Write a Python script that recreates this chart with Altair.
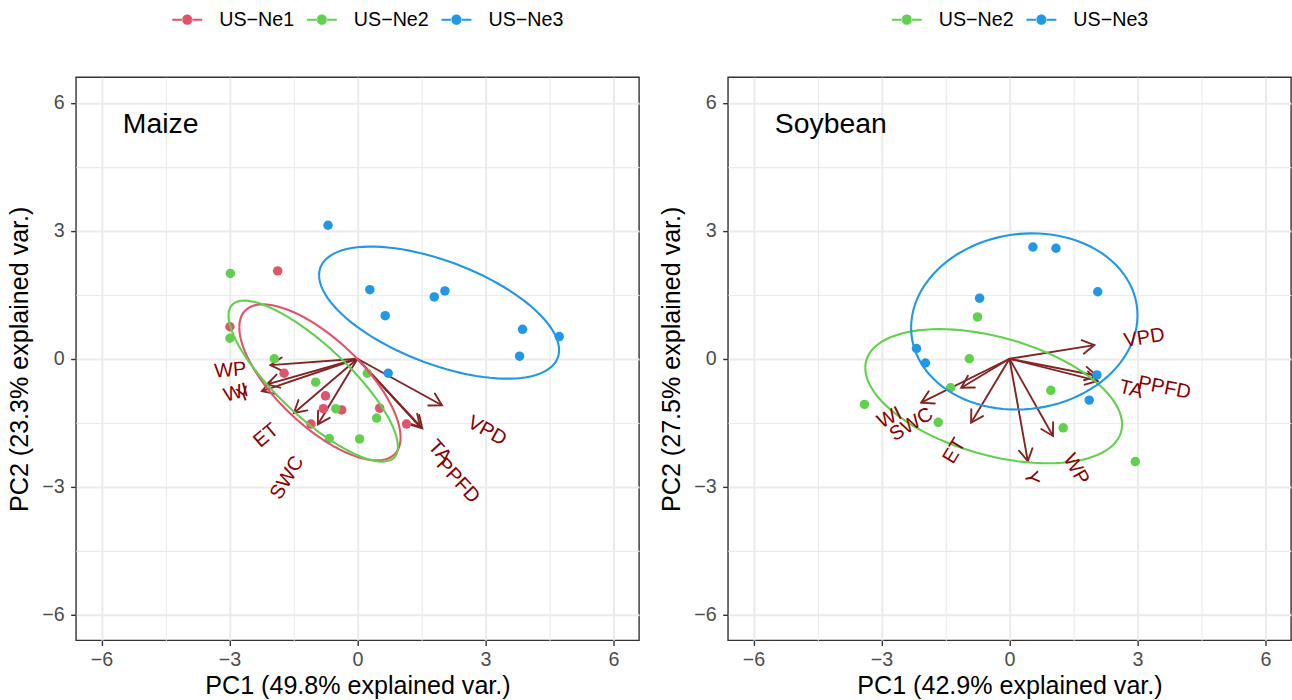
import altair as alt
import numpy as np
import pandas as pd

FONT = "Liberation Sans"

# ---------------- data ----------------
maize_sites = ["US\u2212Ne1", "US\u2212Ne2", "US\u2212Ne3"]
maize_colors = ["#DF536B", "#61D04F", "#2297E6"]
soy_sites = ["US\u2212Ne2", "US\u2212Ne3"]
soy_colors = ["#61D04F", "#2297E6"]

# Maize PC scores
maize_ne1_pc1 = [-1.87, -2.99, -1.72, -0.75, -0.80, -0.37, -1.09, 0.52, 1.15]
maize_ne1_pc2 = [2.06, 0.75, -0.34, -0.87, -1.17, -1.20, -1.53, -1.16, -1.53]
maize_ne2_pc1 = [-2.98, -2.99, -1.95, -0.98, 0.23, -0.51, 0.45, -0.66, 0.05]
maize_ne2_pc2 = [2.00, 0.48, 0.00, -0.55, -0.34, -1.17, -1.39, -1.87, -1.88]
maize_ne3_pc1 = [-0.69, 0.29, 0.65, 1.80, 2.05, 3.87, 4.73, 3.80, 0.72]
maize_ne3_pc2 = [3.13, 1.62, 1.01, 1.45, 1.59, 0.69, 0.52, 0.06, -0.34]

# Soybean PC scores
soy_ne2_pc1 = [-0.75, -0.94, -1.38, -3.40, -1.67, 0.97, 1.26, 2.95]
soy_ne2_pc2 = [0.98, 0.00, -0.68, -1.07, -1.49, -0.74, -1.62, -2.41]
soy_ne3_pc1 = [0.55, 1.09, 2.07, -0.70, -2.18, -1.97, 2.05, 1.87]
soy_ne3_pc2 = [2.62, 2.59, 1.57, 1.42, 0.24, -0.10, -0.38, -0.97]

# Variable loadings (arrow tips) and label centres
variables = ["WP", "WI", "Y", "ET", "SWC", "VPD", "TA", "PPFD"]
maize_load_pc1 = [-2.04, -2.12, -2.24, -1.49, -0.93, 1.98, 1.47, 1.52]
maize_load_pc2 = [-0.15, -0.60, -0.76, -1.27, -1.54, -1.09, -1.60, -1.63]
maize_lab_pc1 = [-2.98, -2.85, -2.67, -2.14, -1.65, 3.04, 1.93, 2.36]
maize_lab_pc2 = [-0.27, -0.80, -0.84, -1.80, -2.79, -1.69, -2.18, -2.86]

soy_load_pc1 = [1.02, -2.07, 0.43, -0.90, -1.13, 1.99, 2.07, 2.05]
soy_load_pc2 = [-1.81, -1.03, -2.40, -1.50, -0.68, 0.32, -0.52, -0.40]
soy_lab_pc1 = [1.56, -2.81, 0.51, -1.29, -2.30, 3.16, 2.85, 3.63]
soy_lab_pc2 = [-2.59, -1.38, -2.79, -2.16, -1.54, 0.49, -0.72, -0.68]

axis_values = [-6, -4.5, -3, -1.5, 0, 1.5, 3, 4.5, 6]
domain = [-6.6, 6.6]


def scores_frame(groups):
    rows = []
    for site, xs, ys in groups:
        for a, b in zip(xs, ys):
            rows.append({"site": site, "pc1": a, "pc2": b})
    return pd.DataFrame(rows)


def ellipse_frame(groups, prob=0.68, n=101):
    # same construction as ggbiplot: covariance ellipse at the given probability
    rows = []
    ed = np.sqrt(-2 * np.log(1 - prob))
    theta = np.linspace(-np.pi, np.pi, n)
    circle = np.column_stack([np.cos(theta), np.sin(theta)])
    for site, xs, ys in groups:
        pts = np.column_stack([xs, ys])
        sigma = np.cov(pts, rowvar=False)
        mu = pts.mean(axis=0)
        upper = np.linalg.cholesky(sigma).T
        ell = circle @ upper * ed + mu
        for i, (a, b) in enumerate(ell):
            rows.append({"site": site, "i": i, "pc1": a, "pc2": b})
    return pd.DataFrame(rows)


def loadings_frame(p1, p2, l1, l2):
    return pd.DataFrame({"var": variables, "x0": 0.0, "y0": 0.0,
                         "pc1": p1, "pc2": p2, "lx": l1, "ly": l2})


cond = "datum.value % 3 !== 0"


def make_axis(title, label_pad, title_pad):
    return alt.Axis(
        title=title, values=axis_values, format="d",
        labelExpr="datum.value % 3 === 0 ? datum.label : ''",
        grid=True, gridColor="#EBEBEB",
        gridWidth={"condition": {"test": cond, "value": 1.1}, "value": 2},
        tickColor="#333333", tickWidth=1.4, tickSize=5.3,
        tickOpacity={"condition": {"test": cond, "value": 0}, "value": 1},
        domain=False, labelOverlap=False,
        labelFont=FONT, labelFontSize=19.7, labelColor="#4D4D4D", labelPadding=label_pad,
        titleFont=FONT, titleFontSize=25.1, titleColor="black",
        titleFontWeight="normal", titlePadding=title_pad,
    )


LEG_PATH = ("M-1,-0.07L-0.3,-0.07L-0.3,0.07L-1,0.07Z "
            "M0.3,-0.07L1,-0.07L1,0.07L0.3,0.07Z "
            "M-0.34,0A0.34,0.34 0 1,0 0.34,0A0.34,0.34 0 1,0 -0.34,0Z")
ARROW_PATH = "M-1,-0.577L0,0L-1,0.577"
ARROW_COL = "#832424"


def panel(groups, sites, colors, loads, xtitle, ytitle, name, legend_x):
    scores = scores_frame(groups)
    ell = ellipse_frame(groups)
    xs = alt.Scale(domain=domain, nice=False, zero=False)
    ys = alt.Scale(domain=domain, nice=False, zero=False)
    cscale = alt.Scale(domain=sites, range=colors)
    X = lambda f: alt.X(f, type="quantitative", scale=xs, axis=make_axis(xtitle, 4, 4))
    Y = lambda f: alt.Y(f, type="quantitative", scale=ys, axis=make_axis(ytitle, 6.5, 9))

    shafts = alt.Chart(loads).mark_rule(color=ARROW_COL, strokeWidth=1.9).encode(
        x=X("x0"), y=Y("y0"), x2="pc1", y2="pc2")
    heads = alt.Chart(loads).transform_calculate(
        ha="(360 - atan2(datum.pc2, datum.pc1) * 180 / PI) % 360"
    ).mark_point(shape=ARROW_PATH, filled=False, stroke=ARROW_COL, strokeWidth=1.9,
                 size=560, opacity=1, strokeCap="round", strokeJoin="miter").encode(
        x=X("pc1"), y=Y("pc2"), angle=alt.Angle("ha:Q", scale=None))
    points = alt.Chart(scores).mark_circle(size=90, opacity=1).encode(
        x=X("pc1"), y=Y("pc2"),
        color=alt.Color("site:N", scale=cscale, legend=alt.Legend(
            title=None, orient="none", direction="horizontal",
            legendX=legend_x, legendY=-72.7,
            symbolType=LEG_PATH, symbolSize=900, symbolStrokeWidth=0,
            symbolOpacity=1, labelFont=FONT, labelFontSize=19.7,
            labelColor="black", labelOffset=17, columnPadding=12.7)))
    ellipses = alt.Chart(ell).mark_line(strokeWidth=2.1).encode(
        x=X("pc1"), y=Y("pc2"), order="i:Q", detail="site:N",
        color=alt.Color("site:N", scale=cscale, legend=None))
    labels = alt.Chart(loads).transform_calculate(
        ta="(360 - atan(datum.pc2 / datum.pc1) * 180 / PI) % 360"
    ).mark_text(font=FONT, fontSize=20, color="#8B0000", align="center",
                baseline="middle").encode(
        x=X("lx"), y=Y("ly"), text="var:N", angle=alt.Angle("ta:Q", scale=None))
    tag = alt.Chart(pd.DataFrame({"t": [name], "x": [-5.5], "y": [5.5]})).mark_text(
        font=FONT, fontSize=28.4, color="black", align="left", baseline="middle"
    ).encode(x=X("x"), y=Y("y"), text="t:N")
    return alt.layer(shafts, heads, points, ellipses, labels, tag).properties(
        width=563.5, height=563.5)


left = panel(
    [(maize_sites[0], maize_ne1_pc1, maize_ne1_pc2),
     (maize_sites[1], maize_ne2_pc1, maize_ne2_pc2),
     (maize_sites[2], maize_ne3_pc1, maize_ne3_pc2)],
    maize_sites, maize_colors,
    loadings_frame(maize_load_pc1, maize_load_pc2, maize_lab_pc1, maize_lab_pc2),
    "PC1 (49.8% explained var.)", "PC2 (23.3% explained var.)", "Maize", 96.4)

right = panel(
    [(soy_sites[0], soy_ne2_pc1, soy_ne2_pc2),
     (soy_sites[1], soy_ne3_pc1, soy_ne3_pc2)],
    soy_sites, soy_colors,
    loadings_frame(soy_load_pc1, soy_load_pc2, soy_lab_pc1, soy_lab_pc2),
    "PC1 (42.9% explained var.)", "PC2 (27.5% explained var.)", "Soybean", 164)

chart = alt.hconcat(left, right, spacing=88.5, bounds="flush").resolve_scale(
    x="independent", y="independent", color="independent"
).properties(
    padding={"left": 7, "top": 3, "right": 0, "bottom": 0}
).configure(background="white").configure_view(stroke="#333333", strokeWidth=1.4)

chart.save("out.html", embed_options={"renderer": "svg", "actions": False})
